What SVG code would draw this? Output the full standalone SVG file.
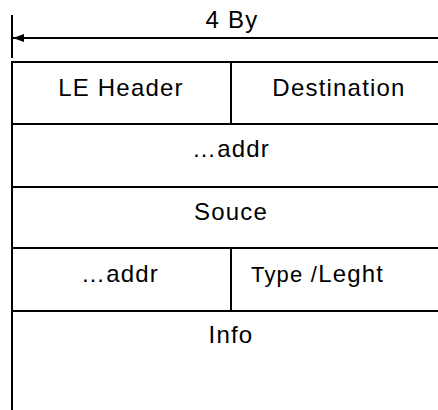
<svg xmlns="http://www.w3.org/2000/svg" width="438" height="410" viewBox="0 0 438 410">
<style>
.t{font-family:"Liberation Sans",Arial,sans-serif;font-size:24px;letter-spacing:1.2px;fill:#000;text-anchor:middle}
.ln{stroke:#000;stroke-width:2;fill:none}
.sm{font-size:22px}
</style>
<defs>
<marker id="ah" viewBox="0 0 11 8" refX="0" refY="4" markerWidth="11" markerHeight="8" markerUnits="userSpaceOnUse" orient="0">
<path d="M0,4 L11,0 L11,8 Z" fill="#000"/>
</marker>
</defs>
<rect width="438" height="410" fill="#fff"/>
<g id="connectors">
<line class="ln" x1="12" y1="15" x2="12" y2="58"/>
<line class="ln" x1="13" y1="38" x2="450" y2="38" marker-start="url(#ah)"/>
</g>
<g id="dimension-label">
<text class="t" x="232" y="28">4 By</text>
</g>
<g id="frame">
<rect class="ln" x="12" y="62" width="438" height="360"/>
<line class="ln" x1="12" y1="124" x2="450" y2="124"/>
<line class="ln" x1="12" y1="187" x2="450" y2="187"/>
<line class="ln" x1="12" y1="248" x2="450" y2="248"/>
<line class="ln" x1="12" y1="311" x2="450" y2="311"/>
<line class="ln" x1="231" y1="62" x2="231" y2="124"/>
<line class="ln" x1="231" y1="248" x2="231" y2="311"/>
</g>
<g id="le-header"><text class="t" x="121" y="96">LE Header</text></g>
<g id="destination"><text class="t" x="339" y="96">Destination</text></g>
<g id="dest-addr"><text class="t" x="231" y="157">…addr</text></g>
<g id="source"><text class="t" x="231" y="220">Souce</text></g>
<g id="src-addr"><text class="t" x="120" y="282">…addr</text></g>
<g id="type-length"><text class="t" x="251" y="282" style="text-anchor:start"><tspan class="sm">Type /</tspan>Leght</text></g>
<g id="info"><text class="t" x="231" y="343">Info</text></g>
</svg>
